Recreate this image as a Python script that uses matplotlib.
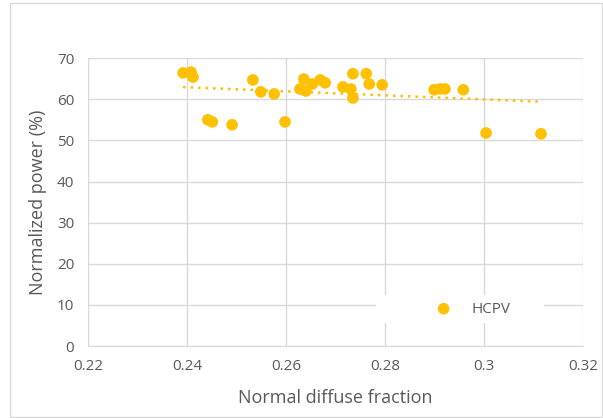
import numpy as np
import matplotlib.pyplot as plt
from matplotlib.patches import Rectangle

# normal diffuse fraction vs normalized power
ndf = [0.2392, 0.2408, 0.2412, 0.2442, 0.2451, 0.2491, 0.2533, 0.2549, 0.2576,
       0.2598, 0.2628, 0.2636, 0.2640, 0.2653, 0.2669, 0.2679, 0.2715, 0.2731,
       0.2735, 0.2735, 0.2762, 0.2768, 0.2794, 0.2899, 0.2911, 0.2921, 0.2958,
       0.3004, 0.3115]
power = [66.4, 66.6, 65.4, 55.0, 54.5, 53.8, 64.7, 61.8, 61.3,
         54.5, 62.5, 64.9, 62.0, 63.7, 64.7, 64.0, 63.0, 62.5,
         60.3, 66.2, 66.2, 63.7, 63.5, 62.3, 62.5, 62.5, 62.3,
         51.8, 51.6]

col = '#FFC000'
grid_c = '#D9D9D9'
txt_c = '#595959'
plt.rcParams['font.family'] = ['Open Sans', 'DejaVu Sans']

fig = plt.figure(figsize=(6.03, 4.18), dpi=100)
ax = fig.add_axes([0.146, 0.172, 0.821, 0.689])

ax.scatter(ndf, power, s=70, color=col, zorder=3, label='HCPV', edgecolors='none')

# linear trendline
k, b = np.polyfit(ndf, power, 1)
xs = np.array([min(ndf), max(ndf)])
ax.plot(xs, k * xs + b, color=col, linestyle=(0, (1, 2)), linewidth=1.8, zorder=2)

ax.set_xlim(0.22, 0.32)
ax.set_ylim(0, 70)
ax.set_xticks([0.22, 0.24, 0.26, 0.28, 0.30, 0.32])
ax.set_xticklabels(['0.22', '0.24', '0.26', '0.28', '0.3', '0.32'])
ax.set_yticks(range(0, 71, 10))
ax.grid(True, color=grid_c, linewidth=1)
ax.set_axisbelow(True)
for s in ['top', 'right', 'left']:
    ax.spines[s].set_visible(False)
ax.spines['bottom'].set_color(grid_c)
ax.tick_params(length=0, colors=txt_c, labelsize=11, pad=9)
ax.tick_params(axis='y', pad=10)
ax.set_xlabel('Normal diffuse fraction', color=txt_c, fontsize=13, labelpad=11)
ax.set_ylabel('Normalized power (%)', color=txt_c, fontsize=13, labelpad=7)

# white legend box over the gridlines
ax.add_patch(Rectangle((0.582, 0.080), 0.339, 0.097, transform=ax.transAxes,
                       facecolor='white', edgecolor='none', zorder=4))
leg = ax.legend(loc='center', bbox_to_anchor=(0.770, 0.128), frameon=False,
                fontsize=11, handletextpad=0.8, markerscale=1)
leg.set_zorder(5)
for t in leg.get_texts():
    t.set_color(txt_c)

fig.patches.append(Rectangle((10 / 603, 0.002), 1 - 11 / 603, 1 - 0.008, transform=fig.transFigure,
                             fill=False, edgecolor=grid_c, linewidth=1))

fig.savefig('out.png', dpi=100)
